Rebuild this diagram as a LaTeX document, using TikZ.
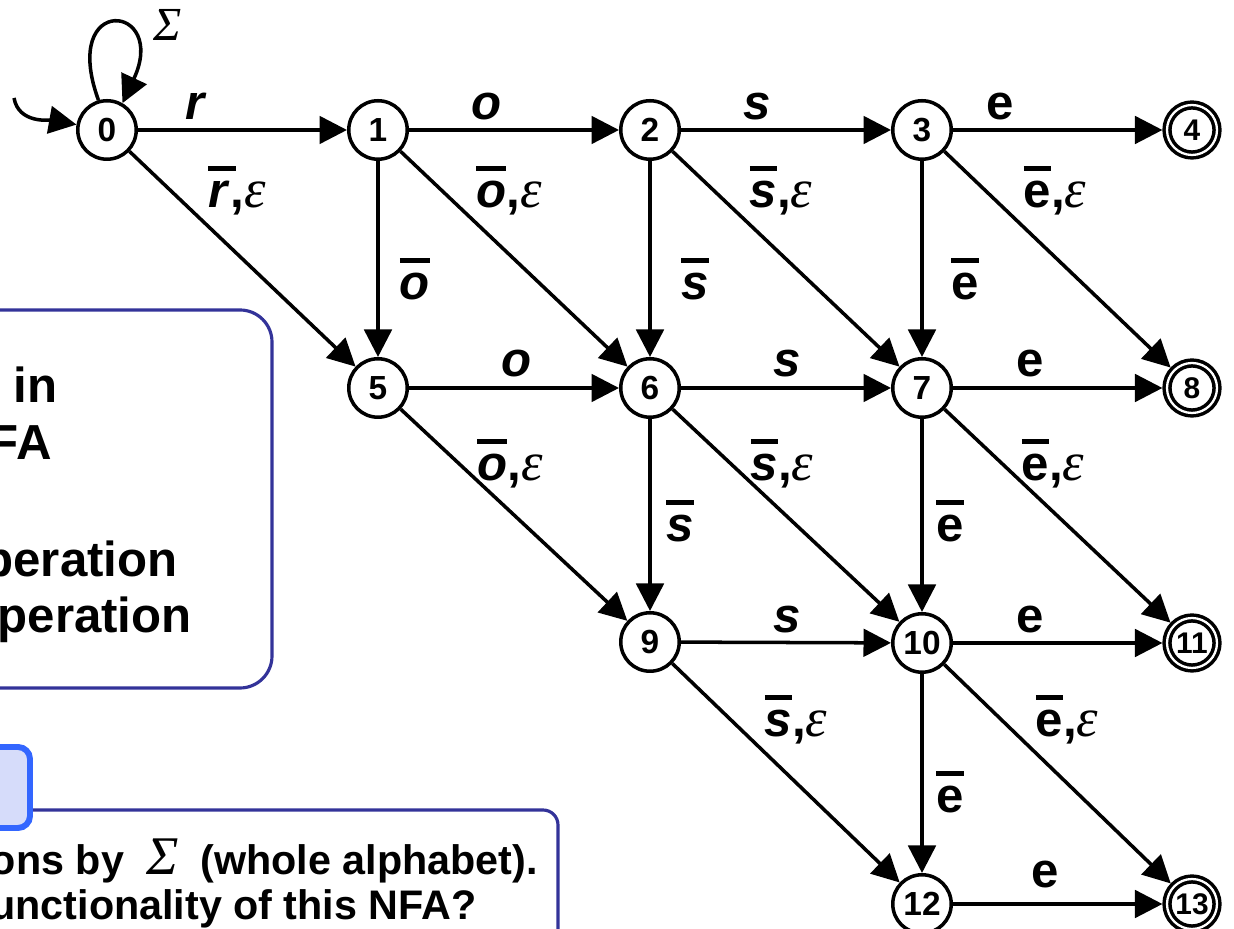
\documentclass[tikz,border=0pt]{standalone}
\usepackage{fontspec}
\setmainfont{Liberation Sans}
\newfontfamily\greekfont{Liberation Serif}
\usetikzlibrary{arrows.meta}
\definecolor{boxblue}{RGB}{51,51,153}
\definecolor{tagblue}{RGB}{51,102,255}
\definecolor{tagfill}{RGB}{214,220,250}
\newcommand{\nb}[1]{\vbox{\hrule height 2.6pt\kern 6pt\hbox{#1}}}
\newcommand{\eps}{{\greekfont\mdseries\itshape\fontsize{31pt}{32pt}\selectfont ε}}
\newcommand{\sig}{{\greekfont\mdseries\itshape Σ}}
\begin{document}
\begin{tikzpicture}[x=0.02cm,y=0.02cm,
  state/.style={circle,draw,line width=2pt,minimum size=1.17cm,inner sep=0pt,
    font=\fontsize{19pt}{22pt}\selectfont\bfseries},
  accepting/.style={state,double,double distance=1.3pt,minimum size=1.0cm,outer sep=2.6pt,
    font=\fontsize{17pt}{20pt}\selectfont\bfseries},
  tr/.style={line width=2pt,-{Triangle[length=0.55cm,width=0.55cm]}},
  lbl/.style={anchor=base,inner sep=0pt,font=\fontsize{28pt}{32pt}\selectfont\bfseries},
  boxtxt/.style={anchor=base east,inner sep=0pt,font=\fontsize{28pt}{33pt}\selectfont\bfseries},
  qtxt/.style={anchor=base east,inner sep=0pt,font=\fontsize{23.5pt}{28pt}\selectfont\bfseries}]
\clip (0,0) rectangle (1234,929);

% boxes on the left
\draw[boxblue,line width=1.8pt,rounded corners=0.64cm] (-40,241) rectangle (272,619);
\node[boxtxt] (t1) at (58,526) {n in};
\node[boxtxt] (t2) at (52,469) {FA};
\node[boxtxt] (t3) at (178,352) {peration};
\node[boxtxt] (t4) at (192,296) {operation};
\draw[boxblue,line width=1.8pt,rounded corners=0.3cm] (-40,-80) rectangle (558,119);
\draw[tagblue,fill=tagfill,line width=3.4pt,rounded corners=0.24cm] (-40,101) rectangle (30,182);
\node[qtxt] (q1) at (538,54) {ons by\hspace{6pt} {\fontsize{31pt}{31pt}\selectfont\sig}\hspace{6pt} (whole alphabet).};
\node[qtxt] (q2) at (477,9) {unctionality of this NFA?};

% states
\node[state] (n0) at (107,799) {0};
\node[state] (n1) at (378,799) {1};
\node[state] (n2) at (650,799) {2};
\node[state] (n3) at (922,799) {3};
\node[accepting] (n4) at (1192,799) {4};
\node[state] (n5) at (378,541) {5};
\node[state] (n6) at (650,541) {6};
\node[state] (n7) at (922,541) {7};
\node[accepting] (n8) at (1192,541) {8};
\node[state] (n9) at (650,287) {9};
\node[state] (n10) at (922,286) {10};
\node[accepting] (n11) at (1192,286) {11};
\node[state] (n12) at (922,25) {12};
\node[accepting] (n13) at (1192,25) {13};

% start and loop
\coordinate (init) at (14,831);
\draw[tr] (init) to[out=-80,in=170] (n0);
\draw[tr] (n0.106) .. controls +(110:115) and +(65:110) .. (n0.60);
\node[font=\fontsize{27pt}{30pt}\selectfont] (sg) at (168,904) {\sig};

% row 1
\draw[tr] (n0) -- (n1) node[lbl] at (195,809) {\itshape r};
\draw[tr] (n0) -- (n5) node[lbl] at (237,721) {\nb{\itshape r\,}\kern-3pt,\eps};
\draw[tr] (n1) -- (n2) node[lbl] at (487,809) {\itshape o};
\draw[tr] (n1) -- (n5) node[lbl] at (415,629) {\nb{\itshape o}};
\draw[tr] (n1) -- (n6) node[lbl] at (509,721) {\nb{\itshape o},\eps};
\draw[tr] (n2) -- (n3) node[lbl] at (757,809) {\itshape s};
\draw[tr] (n2) -- (n6) node[lbl] at (695,629) {\nb{\itshape s}};
\draw[tr] (n2) -- (n7) node[lbl] at (781,721) {\nb{\itshape s},\eps};
\draw[tr] (n3) -- (n4) node[lbl] at (1000,809) {e};
\draw[tr] (n3) -- (n7) node[lbl] at (965,629) {\nb{e}};
\draw[tr] (n3) -- (n8) node[lbl] at (1055,721) {\nb{e},\eps};

% row 2
\draw[tr] (n5) -- (n6) node[lbl] at (517,552) {\itshape o};
\draw[tr] (n5) -- (n9) node[lbl] at (510,448) {\nb{\itshape o},\eps};
\draw[tr] (n6) -- (n7) node[lbl] at (787,552) {\itshape s};
\draw[tr] (n6) -- (n9) node[lbl] at (680,387) {\nb{\itshape s}};
\draw[tr] (n6) -- (n10) node[lbl] at (782,448) {\nb{\itshape s},\eps};
\draw[tr] (n7) -- (n8) node[lbl] at (1030,552) {e};
\draw[tr] (n7) -- (n10) node[lbl] at (950,387) {\nb{e}};
\draw[tr] (n7) -- (n11) node[lbl] at (1053,448) {\nb{e},\eps};

% row 3
\draw[tr] (n9) -- (n10) node[lbl] at (787,296) {\itshape s};
\draw[tr] (n9) -- (n12) node[lbl] at (796,192) {\nb{\itshape s},\eps};
\draw[tr] (n10) -- (n11) node[lbl] at (1030,296) {e};
\draw[tr] (n10) -- (n12) node[lbl] at (950,116) {\nb{e}};
\draw[tr] (n10) -- (n13) node[lbl] at (1067,192) {\nb{e},\eps};
\draw[tr] (n12) -- (n13) node[lbl] at (1045,41) {e};
\end{tikzpicture}
\end{document}
